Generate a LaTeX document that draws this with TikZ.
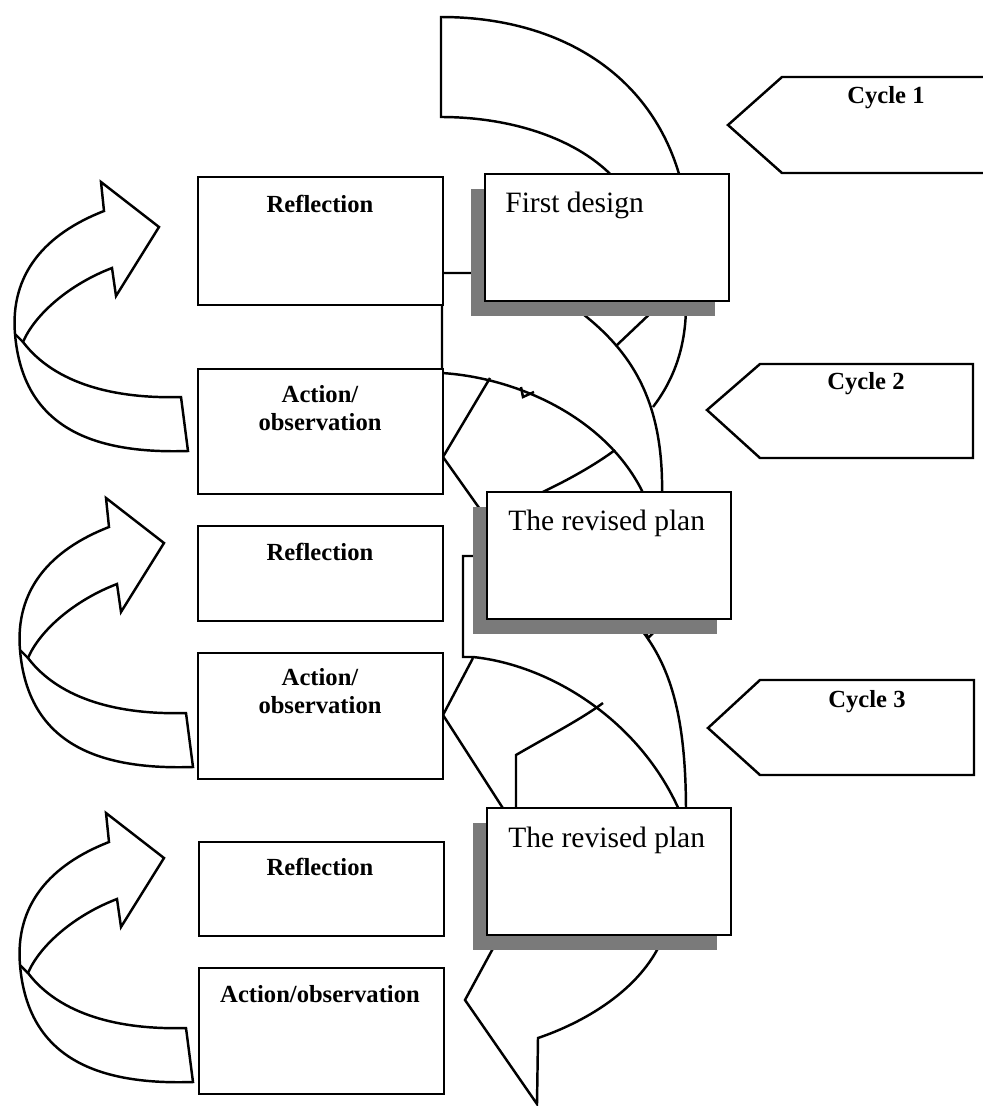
\documentclass[tikz,border=0pt]{standalone}
\usepackage{fontspec}
\setmainfont{Liberation Serif}
\usepackage{tikz}
\usetikzlibrary{positioning,calc,shadows}
\tikzset{
  band/.style={line width=1.4pt, line join=miter},
  stagebox/.style={draw, fill=white, line width=1.4pt, inner sep=0pt, anchor=north west, minimum width=4.9cm},
  planbox/.style={draw, fill=white, line width=1.4pt, inner sep=0pt, anchor=north west,
    minimum width=4.88cm, minimum height=2.54cm,
    drop shadow={shadow xshift=-0.28cm, shadow yshift=-0.3cm, fill=black!52, opacity=1}},
  boldlabel/.style={font=\bfseries\fontsize{14}{16.2}\selectfont, inner sep=0pt, align=center},
  planlabel/.style={font=\fontsize{16.8}{19}\selectfont, inner sep=0pt},
}

\begin{document}
\begin{tikzpicture}[x=0.02cm, y=-0.02cm]
    \useasboundingbox (0,0) rectangle (983,1106);
    % Cycle tabs
    \draw[band] (984,77) -- (782,77) -- (728,125) -- (782,173) -- (984,173);
    \node[boldlabel, anchor=base] (cyc1) at (886,103) {Cycle 1};
    \draw[band] (973,364) -- (760,364) -- (707,410) -- (760,458) -- (973,458) -- cycle;
    \node[boldlabel, anchor=base] (cyc2) at (866,389) {Cycle 2};
    \draw[band] (974,680) -- (760,680) -- (708,728) -- (760,775) -- (974,775) -- cycle;
    \node[boldlabel, anchor=base] (cyc3) at (867,707) {Cycle 3};
    % Spiral band, first cycle
    \draw[band] (616,180) .. controls (578,138) and (510,117) .. (441,117) -- (441,17)
      .. controls (560,17) and (655,75) .. (682,185);
    % Spiral band, second cycle
    \draw[band] (476,273) -- (442,273) -- (442,373) .. controls (520,378) and (610,420) .. (645,497);
    \draw[band] (521,387) -- (523,397) -- (534,392);
    \draw[band] (490,378) -- (443,457) -- (482,512);
    \draw[band] (615,450) .. controls (595,465) and (565,482) .. (532,497);
    \draw[band] (575,308) .. controls (635,352) and (664,405) .. (662,497);
    \draw[band] (656,308) -- (617,345);
    \draw[band] (686,305) .. controls (686,350) and (672,382) .. (653,407);
    % Spiral band, third cycle
    \draw[band] (476,556) -- (463,556) -- (463,657) -- (473,657)
      .. controls (550,665) and (640,720) .. (680,812);
    \draw[band] (473,658) -- (443,715) -- (506,813);
    \draw[band] (603,703) .. controls (580,720) and (545,738) .. (516,755) -- (516,812);
    \draw[band] (646,632) -- (648,638) -- (654,632);
    \draw[band] (640,628) .. controls (672,668) and (686,720) .. (686,812);
    \draw[band] (497,941) -- (465,1000) -- (537,1104) -- (538,1038)
      .. controls (585,1022) and (640,990) .. (662,940);
    % Plan boxes
    \node[planbox] (design) at (484,173) {};
    \node[planlabel, anchor=base west] (designtxt) at (505,212) {First design};
    \node[planbox] (revised1) at (486,491) {};
    \node[planlabel, anchor=base west] (revised1txt) at (508,530) {The revised plan};
    \node[planbox] (revised2) at (486,807) {};
    \node[planlabel, anchor=base west] (revised2txt) at (508,847) {The revised plan};
    % Reflection / action boxes
    \node[stagebox, minimum height=2.56cm] (refl1) at (197,176) {};
    \node[boldlabel, anchor=base] (refl1txt) at (320,212) {Reflection};
    \node[stagebox, minimum height=2.5cm] (act1) at (197,368) {};
    \node[boldlabel, anchor=north] (act1txt) at (320,385) {Action/\\observation};
    \node[stagebox, minimum height=1.9cm] (refl2) at (197,525) {};
    \node[boldlabel, anchor=base] (refl2txt) at (320,560) {Reflection};
    \node[stagebox, minimum height=2.52cm] (act2) at (197,652) {};
    \node[boldlabel, anchor=north] (act2txt) at (320,668) {Action/\\observation};
    \node[stagebox, minimum height=1.88cm] (refl3) at (198,841) {};
    \node[boldlabel, anchor=base] (refl3txt) at (320,875) {Reflection};
    \node[stagebox, minimum height=2.52cm] (act3) at (198,967) {};
    \node[boldlabel, anchor=base] (act3txt) at (320,1002) {Action/observation};
    % Turn-back arrows
    \foreach \dx/\dy in {-5/-316, 0/0, 0/315} {
      \begin{scope}[shift={(\dx,\dy)}]
        \draw[band] (109,527) -- (106,498) -- (164,543) -- (121,612) -- (117,584)
          .. controls (75,600) and (40,630) .. (28,658)
          .. controls (60,700) and (120,715) .. (186,713)
          -- (193,767)
          .. controls (100,770) and (28,745) .. (20,650)
          .. controls (15,590) and (50,550) .. (109,527) -- cycle;
        \draw[band] (20,650) -- (28,658);
      \end{scope}
    }
\end{tikzpicture}
\end{document}
